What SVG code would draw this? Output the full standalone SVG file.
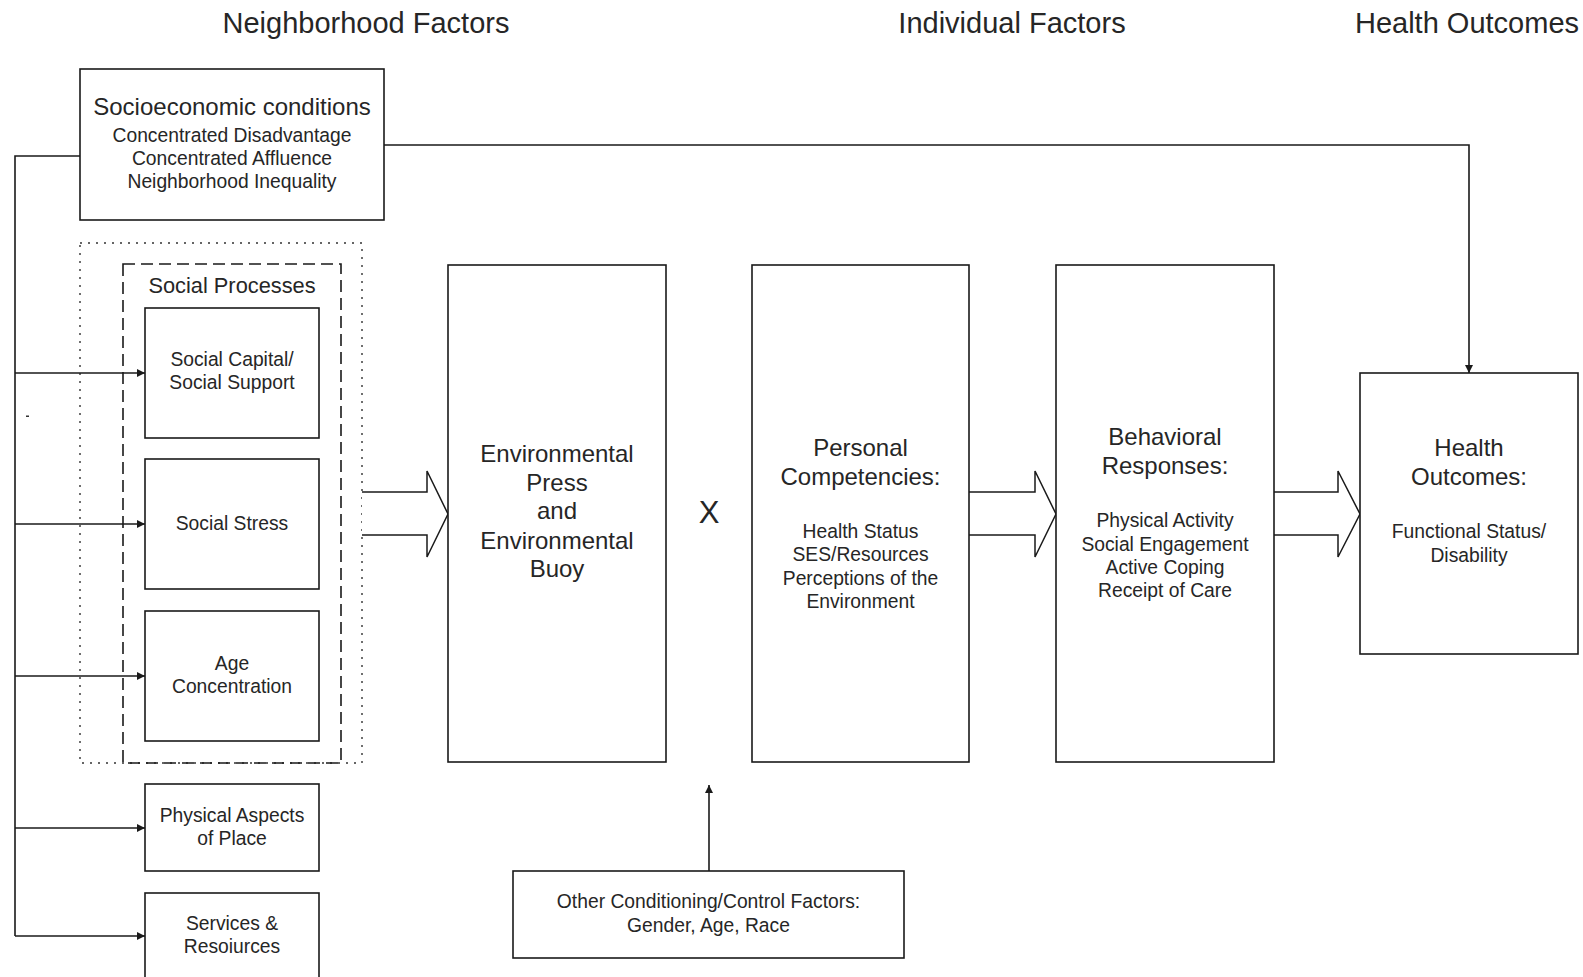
<svg xmlns="http://www.w3.org/2000/svg" width="1583" height="977" viewBox="0 0 1583 977">
<defs>
<style>
text{font-family:"Liberation Sans",Arial,sans-serif;fill:#262626;text-anchor:middle}
.hdr{font-size:29px}
.big{font-size:24px}
.sm{font-size:19.3px}
.sp{font-size:21.8px}
.box{fill:#fff;stroke:#1a1a1a;stroke-width:1.6}
.ln{fill:none;stroke:#1a1a1a;stroke-width:1.6}
.hol{fill:#fff;stroke:#1a1a1a;stroke-width:1.5;stroke-linejoin:miter}
</style>
<marker id="ah" viewBox="0 0 10 10" refX="10" refY="5" markerWidth="10" markerHeight="8" markerUnits="userSpaceOnUse" orient="auto">
<path d="M0,0 L10,5 L0,10 z" fill="#1a1a1a"/>
</marker>
</defs>
<rect width="1583" height="977" fill="#fff"/>

<g id="headers">
<text class="hdr" x="366" y="33">Neighborhood Factors</text>
<text class="hdr" x="1012" y="33">Individual Factors</text>
<text class="hdr" x="1467" y="33">Health Outcomes</text>
</g>

<g id="groups">
<rect x="80" y="243" width="282" height="520" fill="none" stroke="#333" stroke-width="1.4" stroke-dasharray="2 6"/>
<rect x="123" y="264" width="218" height="499" fill="none" stroke="#1a1a1a" stroke-width="1.6" stroke-dasharray="12 6"/>
<text class="sp" x="232" y="293">Social Processes</text>
</g>

<g id="connectors">
<polyline class="ln" points="80,156 15,156 15,936"/>
<line class="ln" x1="15" y1="373" x2="145" y2="373" marker-end="url(#ah)"/>
<line class="ln" x1="15" y1="524" x2="145" y2="524" marker-end="url(#ah)"/>
<line class="ln" x1="15" y1="676" x2="145" y2="676" marker-end="url(#ah)"/>
<line class="ln" x1="15" y1="828" x2="145" y2="828" marker-end="url(#ah)"/>
<line class="ln" x1="15" y1="936" x2="145" y2="936" marker-end="url(#ah)"/>
<polyline class="ln" points="384,145 1469,145 1469,373" marker-end="url(#ah)"/>
<line class="ln" x1="709" y1="871" x2="709" y2="785" marker-end="url(#ah)"/>
<polyline class="hol" points="362,492 427,492 427,471 448,514 427,557 427,535 362,535"/>
<polyline class="hol" points="969,492 1035,492 1035,471 1056,514 1035,557 1035,535 969,535"/>
<polyline class="hol" points="1274,492 1338,492 1338,471 1360,514 1338,557 1338,535 1274,535"/>
<rect x="26" y="415.5" width="3" height="1.5" fill="#333"/>
</g>

<g id="socio">
<rect class="box" x="80" y="69" width="304" height="151"/>
<text class="big" x="232" y="115">Socioeconomic conditions</text>
<text class="sm" x="232" y="142">Concentrated Disadvantage</text>
<text class="sm" x="232" y="165">Concentrated Affluence</text>
<text class="sm" x="232" y="188">Neighborhood Inequality</text>
</g>

<g id="social-capital">
<rect class="box" x="145" y="308" width="174" height="130"/>
<text class="sm" x="232" y="366">Social Capital/</text>
<text class="sm" x="232" y="389">Social Support</text>
</g>

<g id="social-stress">
<rect class="box" x="145" y="459" width="174" height="130"/>
<text class="sm" x="232" y="530">Social Stress</text>
</g>

<g id="age-concentration">
<rect class="box" x="145" y="611" width="174" height="130"/>
<text class="sm" x="232" y="670">Age</text>
<text class="sm" x="232" y="693">Concentration</text>
</g>

<g id="physical">
<rect class="box" x="145" y="784" width="174" height="87"/>
<text class="sm" x="232" y="822">Physical Aspects</text>
<text class="sm" x="232" y="845">of Place</text>
</g>

<g id="services">
<rect class="box" x="145" y="893" width="174" height="100"/>
<text class="sm" x="232" y="930">Services &amp;</text>
<text class="sm" x="232" y="953">Resoiurces</text>
</g>

<g id="environmental">
<rect class="box" x="448" y="265" width="218" height="497"/>
<text class="big" x="557" y="462">Environmental</text>
<text class="big" x="557" y="491">Press</text>
<text class="big" x="557" y="519">and</text>
<text class="big" x="557" y="549">Environmental</text>
<text class="big" x="557" y="577">Buoy</text>
</g>

<g id="times">
<text x="709" y="523" style="font-size:31px">X</text>
</g>

<g id="personal">
<rect class="box" x="752" y="265" width="217" height="497"/>
<text class="big" x="860.5" y="456">Personal</text>
<text class="big" x="860.5" y="485">Competencies:</text>
<text class="sm" x="860.5" y="538">Health Status</text>
<text class="sm" x="860.5" y="561">SES/Resources</text>
<text class="sm" x="860.5" y="585">Perceptions of the</text>
<text class="sm" x="860.5" y="608">Environment</text>
</g>

<g id="behavioral">
<rect class="box" x="1056" y="265" width="218" height="497"/>
<text class="big" x="1165" y="445">Behavioral</text>
<text class="big" x="1165" y="474">Responses:</text>
<text class="sm" x="1165" y="527">Physical Activity</text>
<text class="sm" x="1165" y="551">Social Engagement</text>
<text class="sm" x="1165" y="574">Active Coping</text>
<text class="sm" x="1165" y="597">Receipt of Care</text>
</g>

<g id="health">
<rect class="box" x="1360" y="373" width="218" height="281"/>
<text class="big" x="1469" y="456">Health</text>
<text class="big" x="1469" y="485">Outcomes:</text>
<text class="sm" x="1469" y="538">Functional Status/</text>
<text class="sm" x="1469" y="562">Disability</text>
</g>

<g id="other">
<rect class="box" x="513" y="871" width="391" height="87"/>
<text class="sm" x="708.5" y="908">Other Conditioning/Control Factors:</text>
<text class="sm" x="708.5" y="932">Gender, Age, Race</text>
</g>
</svg>
